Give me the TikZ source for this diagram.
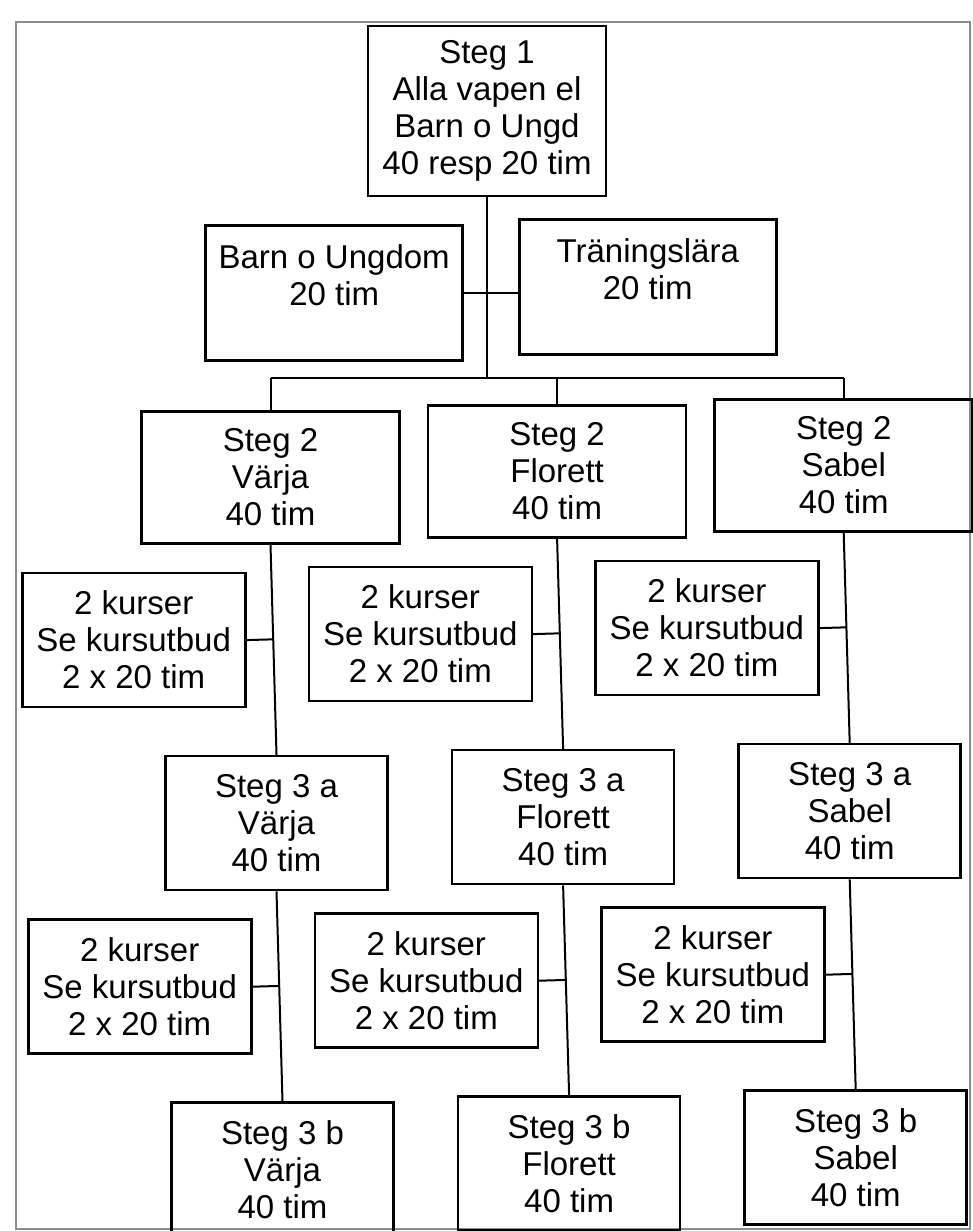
\documentclass[tikz,border=0pt]{standalone}
\usepackage{fontspec}
\setmainfont{Liberation Sans}
\usetikzlibrary{positioning,calc}
\tikzset{
  font=\fontsize{33}{37}\selectfont,
  stegbox/.style ={draw, line width=2.6pt, minimum width=258pt, minimum height=132pt, align=center, inner sep=2pt},
  stegsm/.style  ={stegbox, minimum width=222pt, minimum height=134pt},
  toppbox/.style ={stegbox, minimum width=238pt, minimum height=170pt},
  sidobox/.style ={stegbox, minimum width=257pt, minimum height=135pt},
  kursbox/.style ={stegbox, minimum width=223pt, minimum height=134pt},
  lnk/.style     ={draw, line width=2pt},
  ram/.style     ={draw, line width=1.4pt, black!45},
}
\begin{document}
\begin{tikzpicture}[x=1pt, y=-1pt]
  \useasboundingbox (0,0) rectangle (973,1231);
  \draw[ram] (16,22) rectangle (970,1229);
  \node[toppbox] (s1) at (487,111) {Steg 1\\Alla vapen el\\Barn o Ungd\\40 resp 20 tim};
  \node[sidobox, below left=27pt and 23pt of s1.south] (barn) {Barn o Ungdom\\20 tim\\\mbox{}};
  \node[sidobox, below right=21pt and 31pt of s1.south] (tran) {Träningslära\\20 tim\\\mbox{}};
  \coordinate (hub) at (490,378);
  \node[stegbox] (s2v) at (270.5,477.5) {Steg 2\\Värja\\40 tim};
  \node[stegbox, right=26pt of s2v, yshift=6pt] (s2f) {Steg 2\\Florett\\40 tim};
  \node[stegbox, right=26pt of s2f, yshift=6pt] (s2s) {Steg 2\\Sabel\\40 tim};
  \node[stegsm, below=210pt of s2v, xshift=6pt] (s3av) {Steg 3 a\\Värja\\40 tim};
  \node[stegsm, below=210pt of s2f, xshift=6pt] (s3af) {Steg 3 a\\Florett\\40 tim};
  \node[stegsm, below=210pt of s2s, xshift=6pt] (s3as) {Steg 3 a\\Sabel\\40 tim};
  \node[stegsm, below=210pt of s3av, xshift=6pt] (s3bv) {Steg 3 b\\Värja\\40 tim};
  \node[stegsm, below=210pt of s3af, xshift=6pt] (s3bf) {Steg 3 b\\Florett\\40 tim};
  \node[stegsm, below=210pt of s3as, xshift=6pt] (s3bs) {Steg 3 b\\Sabel\\40 tim};
  \node[kursbox, below left=27pt and 24pt of s2v.south] (k1) {2 kurser\\Se kursutbud\\2 x 20 tim};
  \node[kursbox, below left=27pt and 24pt of s2f.south] (k2) {2 kurser\\Se kursutbud\\2 x 20 tim};
  \node[kursbox, below left=27pt and 24pt of s2s.south] (k3) {2 kurser\\Se kursutbud\\2 x 20 tim};
  \node[kursbox, below left=27pt and 24pt of s3av.south] (k4) {2 kurser\\Se kursutbud\\2 x 20 tim};
  \node[kursbox, below left=27pt and 24pt of s3af.south] (k5) {2 kurser\\Se kursutbud\\2 x 20 tim};
  \node[kursbox, below left=27pt and 24pt of s3as.south] (k6) {2 kurser\\Se kursutbud\\2 x 20 tim};
  \draw[lnk] (s1.south) -- (s1.south |- hub);
  \draw[lnk] (barn.east) -- (barn.east -| tran.west);
  \draw[lnk] (s2v.north |- hub) -- (s2s.north |- hub);
  \foreach \n in {s2v,s2f,s2s}
    \draw[lnk] (\n.north |- hub) -- (\n.north);
  \foreach \a/\b/\k in {s2v/s3av/k1, s2f/s3af/k2, s2s/s3as/k3, s3av/s3bv/k4, s3af/s3bf/k5, s3as/s3bs/k6} {
    \draw[lnk] (\a.south) -- (\b.north);
    \draw[lnk] (\k.east) -- ($(\a.south)!(\k.east)!(\b.north)$);
  }
\end{tikzpicture}
\end{document}
